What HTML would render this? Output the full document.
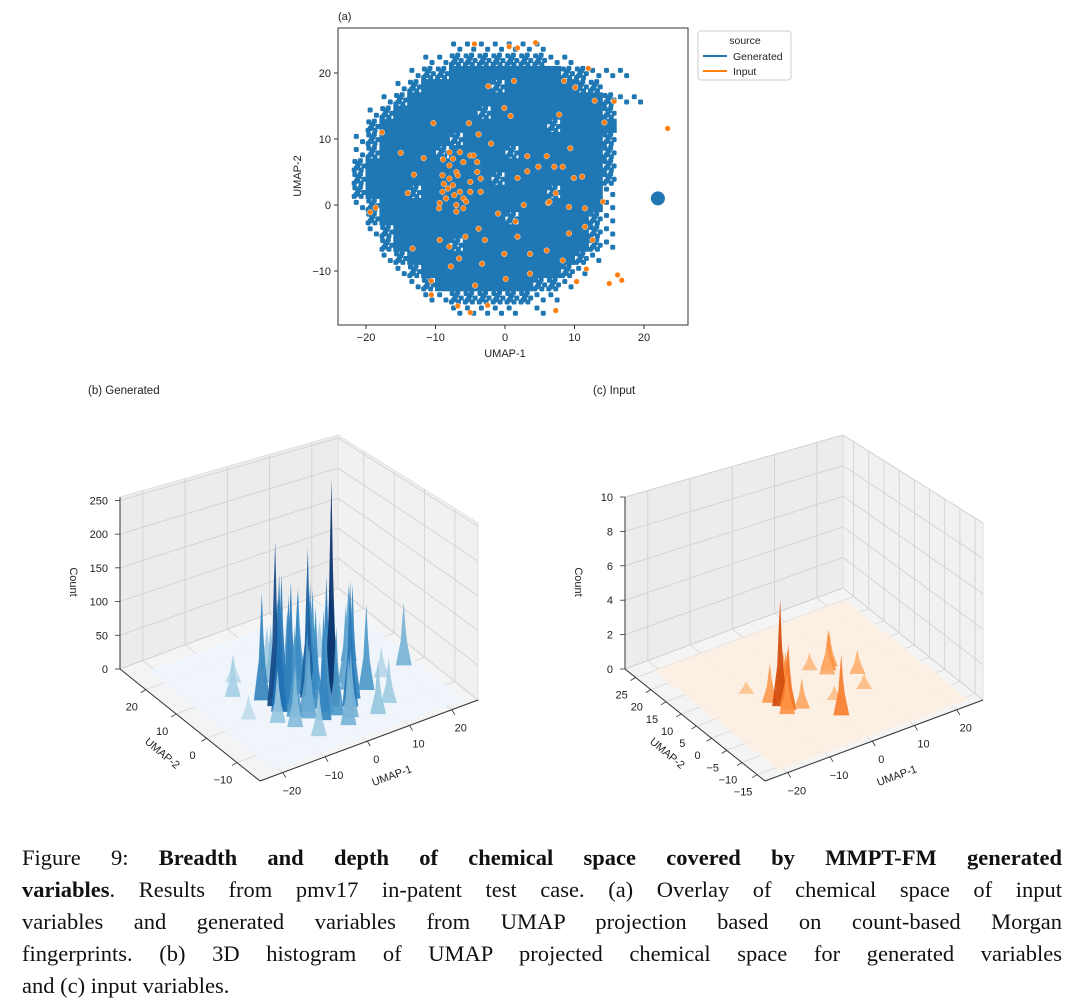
<!DOCTYPE html>
<html><head><meta charset="utf-8">
<style>
html,body{margin:0;padding:0;background:#fff;}
body{width:1080px;height:1006px;position:relative;overflow:hidden;font-family:"Liberation Sans",sans-serif;}
.cap{position:absolute;left:22px;width:1040px;font-family:"Liberation Serif",serif;font-size:22.5px;line-height:30px;white-space:nowrap;color:#111;}
.j{text-align:justify;text-align-last:justify;white-space:normal;}
</style></head><body>
<svg id="fig" width="1080" height="840" style="position:absolute;left:0;top:0" font-family="Liberation Sans, sans-serif"></svg>
<div class="cap j" style="top:843px">Figure 9: <b>Breadth and depth of chemical space covered by MMPT-FM generated</b></div>
<div class="cap j" style="top:875px"><b>variables</b>. Results from pmv17 in-patent test case. (a) Overlay of chemical space of input</div>
<div class="cap j" style="top:907px">variables and generated variables from UMAP projection based on count-based Morgan</div>
<div class="cap j" style="top:939px">fingerprints. (b) 3D histogram of UMAP projected chemical space for generated variables</div>
<div class="cap" style="top:971px">and (c) input variables.</div>
<script>
// ---- data: scatter density grid (rows y=24 down to -16, cols x=-21..19 step 2) ----
const densityRows = [
".......1111111.......",
".....11222222211.....",
"....1223333333322111.",
"...123333323333322...",
"..1233333333333333211",
".123333332333333332..",
".233333333333323333..",
"1233333233333333332..",
"1233332333323333332..",
"2333333333333333332..",
"2333333333233333332..",
"2333233333333323331..",
"1233333333333333331..",
".233333333323333321..",
".123333333333333321..",
"..23333233333333321..",
"..1233333333333321...",
"...12333333333321....",
"....123333333221.....",
".....1122222211......",
".......11111.1......."];
const isolatedX = [22]; const isolatedY = [1];
const inputX = [-4.4,0.6,1.8,4.4,12,23.4,-17.7,15.7,-19.4,-18.6,-10.6,-10.6,-6.8,-5,-2.5,7.3,11.7,15,16.8,16.2,10.3,
-10.3,-5.2,-0.1,0.8,-3.8,-2,7.8,10.1,9.4,6.2,7.3,9.2,11.5,14.1,1.5,2.7,-1,-3.8,-2.9,-5.7,-8,-9.4,-6.6,-3.3,-0.1,1.8,3.6,6,8.3,9.2,11.5,12.6,-14,-13.1,-15,-11.7,-8.9,-9.4,-13.3,0.1,3.6,-4.3,-7.8,-2.4,1.3,8.5,12.9,14.3,8.3,9.9,11.1,6.4,3.2,3.2,6,7.1,1.8,4.8,
-8,-7.5,-7,-6.5,-8.5,-7,-6,-8,-6,-5,-4.5,-5,-4,-3.5,-7,-9,-9,-6,-5,-3.5,-8,-6.5,-4,-7.5,-9.5,-8.2,-6.8,-5.6,-7.3,-8.8];
const inputY = [24.4,24,23.8,24.6,20.7,11.6,11,15.7,-1.1,-0.4,-11.5,-13.6,-15.3,-16.3,-15.2,-16,-9.7,-11.9,-11.4,-10.6,-11.6,
12.4,12.4,14.7,13.5,10.7,9.3,13.7,17.8,8.6,0.3,1.8,-0.3,-0.5,0.5,-2.5,0,-1.3,-3.6,-5.3,-4.8,-6.3,-5.3,-8.1,-8.9,-7.4,-4.8,-7.4,-6.9,-8.4,-4.3,-3.3,-5.3,1.8,4.6,7.9,7.1,6.9,0.3,-6.6,-11.2,-10.4,-12.2,-9.3,18,18.8,18.8,15.8,12.5,5.8,4.1,4.3,0.5,5.1,7.4,7.4,5.8,4.1,5.8,
4,3,5,2,1,0,1,6,6.5,7.5,7.5,3.5,5,4,-1,4.5,2,-0.5,2,2,8,8,6.5,7,-0.5,2.5,4.5,0.5,1.5,3.2];
const scatterXTicks = [-20,-10,0,10,20];
const scatterYTicks = [-10,0,10,20];
// ---- 3D generated peaks ----
const genU = [-7,-6,-4,-8,-5,2,0,3,5,7,-2,4,9,6,-3,-10,14,12,-12,1,-6,8,10,-1,16,-14,22,3,-9,11,-1,2,
-7.5,-5.5,-3,-1,1,4,6,-4,0,3,8,-6,-2,5,-8,2];
const genV = [3,0,2,6,5,-3,2,0,-5,-3,-6,6,2,10,10,-2,8,-8,10,-10,-10,-10,12,14,0,2,1,16,14,-2,-2,8,
1,3,-2,4,-6,-1,3,-4,-4,-8,0,-2,6,1,-5,4];
const genH = [230,160,170,150,140,320,210,170,175,160,150,130,110,100,80,70,110,60,55,90,60,70,50,60,40,30,90,40,35,120,140,130,
190,180,110,140,120,130,150,100,120,90,100,120,110,140,80,150];
// ---- 3D input peaks ----
const inU = [-7,-6.5,-5,-8,-4,1,8,9,7,12,-2,5,-10,3,10,-6,-7.5];
const inV = [3,1,4,5,0,-6,8,9,7,4,9,10,10,-1,-1,2,0];
const inH = [5.8,3.5,2.5,2.0,1.5,3.2,2.2,1.8,1.4,1.2,1.6,0.8,0.5,0.6,0.7,3.0,2.2];
const zTicksGen = [0,50,100,150,200,250];
const zTicksIn = [0,2,4,6,8,10];
const u1Ticks = [-20,-10,0,10,20];
const u2TicksGen = [-10,0,10,20];
const u2TicksIn = [-15,-10,-5,0,5,10,15,20,25];

const NS="http://www.w3.org/2000/svg";
const svg=document.getElementById('fig');
function mk(tag,attrs,parent){const e=document.createElementNS(NS,tag);for(const k in attrs)e.setAttribute(k,attrs[k]);(parent||svg).appendChild(e);return e;}
function txt(s,x,y,size,anchor,parent,rot){const t=mk('text',{x:x,y:y,'font-size':size,'text-anchor':anchor||'middle',fill:'#222'},parent);if(rot)t.setAttribute('transform','rotate('+rot+' '+x+' '+y+')');t.textContent=s;return t;}

// ===== Panel (a) =====
const ga=mk('g',{});


const sx=v=>505+v*6.95, sy=v=>205-v*6.6;
txt('(a)',338,20,11,'start',ga);
const plot=mk('g',{},ga);


const pat1=[[0.3,0.3],[0.75,0.7]], pat2=[[0.2,0.2],[0.6,0.15],[0.85,0.55],[0.4,0.55],[0.15,0.85],[0.65,0.85],[0.5,0.35],[0.3,0.7]];
densityRows.forEach((row,ri)=>{
  const yc=24-2*ri;
  for(let ci=0;ci<row.length;ci++){
    const d=row[ci]; if(d==='.')continue;
    const xc=-21+2*ci;
    const x0=sx(xc-1), y0=sy(yc+1), w=sx(xc+1)-x0, h=sy(yc-1)-y0;
    if(d==='3'){const r=mk('rect',{x:x0-0.5,y:y0-0.5,width:w+1,height:h+1,fill:'#1f77b4'},plot);}
    else{(d==='2'?pat2:pat1).forEach(p=>{const r=mk('rect',{x:x0+p[0]*w-2.5,y:y0+p[1]*h-2.5,width:5,height:5,rx:1.5,fill:'#1f77b4'},plot);});}
  }
});
isolatedX.forEach((x,i)=>{const c=mk('circle',{cx:sx(x),cy:sy(isolatedY[i]),r:7,fill:'#1f77b4'},plot);});
inputX.forEach((x,i)=>{const c=mk('circle',{cx:sx(x),cy:sy(inputY[i]),r:2.8,fill:'#ff7f0e',stroke:'#fff','stroke-width':0.4},plot);});
const fr=mk('rect',{x:338,y:28,width:350,height:297,fill:'none',stroke:'#333','stroke-width':1},ga);

scatterXTicks.forEach(v=>{mk('line',{x1:sx(v),x2:sx(v),y1:325,y2:329,stroke:'#333'},ga);const t=txt(v<0?'\u2212'+(-v):''+v,sx(v),341,11,'middle',ga);});
scatterYTicks.forEach(v=>{mk('line',{x1:334,x2:338,y1:sy(v),y2:sy(v),stroke:'#333'},ga);const t=txt(v<0?'\u2212'+(-v):''+v,331,sy(v)+4,11,'end',ga);});
const xl=txt('UMAP-1',505,357,11,'middle',ga);
const yl=txt('UMAP-2',301,176,11,'middle',ga,-90);
const lg=mk('g',{},ga);
mk('rect',{x:698,y:31,width:93,height:49,rx:3,fill:'#fff',stroke:'#ccc'},lg);
txt('source',745,44,10.5,'middle',lg);
mk('line',{x1:703,x2:727,y1:56,y2:56,stroke:'#1f77b4','stroke-width':2},lg);
const l1=txt('Generated',733,60,10.5,'start',lg);
mk('line',{x1:703,x2:727,y1:71,y2:71,stroke:'#ff7f0e','stroke-width':2},lg);
const l2=txt('Input',733,75,10.5,'start',lg);

// ===== 3D panels =====
function cmap(stops,t){t=Math.max(0,Math.min(1,t));const n=stops.length-1,k=Math.min(n-1,Math.floor(t*n)),f=t*n-k;const a=[1,3,5].map(i=>parseInt(stops[k].substr(i,2),16)),b=[1,3,5].map(i=>parseInt(stops[k+1].substr(i,2),16));return 'rgb('+a.map((v,i)=>Math.round(v+(b[i]-v)*f)).join(',')+')';}
function panel3d(ox,title,zmax,zTicks,u2Ticks,U,V,H,stops,floorCol,name){
  const g=mk('g',{});
  
  
  const umin=-25.4,umax=26.2,vmin=-17.6,vmax=28.5;
  function P(u,v,z){const a=(u-umin)/(umax-umin),b=(v-vmin)/(vmax-vmin),c=z/zmax;const s=195-18*a-23*b-a*b;return [ox+260+a*218-b*140,781-a*81-b*112-c*s];}
  function Pn(a,b,c){return P(umin+a*(umax-umin),vmin+b*(vmax-vmin),c*zmax);}
  const poly=(pts,attrs)=>mk('polygon',Object.assign({points:pts.map(p=>p.join(',')).join(' ')},attrs),g);
  txt(title,ox+88,394,11.5,'start',g);
  poly([Pn(0,1,0),Pn(1,1,0),Pn(1,1,1),Pn(0,1,1)],{fill:'#ececec',stroke:'#e0e0e0'});
  poly([Pn(1,1,0),Pn(1,0,0),Pn(1,0,1),Pn(1,1,1)],{fill:'#f1f1f1',stroke:'#e0e0e0'});
  poly([Pn(0,0,0),Pn(1,0,0),Pn(1,1,0),Pn(0,1,0)],{fill:'#f4f4f4',stroke:'#e0e0e0'});
  const L=(p,q,st,w)=>mk('line',{x1:p[0],y1:p[1],x2:q[0],y2:q[1],stroke:st,'stroke-width':w||0.8},g);
  u1Ticks.forEach(u=>{L(P(u,vmin,0),P(u,vmax,0),'#d6d6d6');L(P(u,vmax,0),P(u,vmax,zmax),'#cfcfcf');});
  u2Ticks.forEach(v=>{L(P(umin,v,0),P(umax,v,0),'#d6d6d6');L(P(umax,v,0),P(umax,v,zmax),'#cfcfcf');});
  zTicks.forEach(z=>{L(P(umin,vmax,z),P(umax,vmax,z),'#cfcfcf');L(P(umax,vmax,z),P(umax,vmin,z),'#cfcfcf');});
  poly([P(-21,-16,0),P(24,-16,0),P(24,25,0),P(-21,25,0)],{fill:floorCol,opacity:0.9});
  const idx=U.map((_,i)=>i).sort((i,j)=>(U[j]+V[j])-(U[i]+V[i]));
  idx.forEach(i=>{
    const b=P(U[i],V[i],0), t=P(U[i],V[i],H[i]);
    const hh=b[1]-t[1];
    const col=cmap(stops,H[i]/zmax);
    const sp=poly([[b[0]-8,b[1]+4],[b[0]-3,b[1]-hh*0.35],[b[0]-1.5,b[1]-hh*0.7],t,[b[0]+1.5,b[1]-hh*0.6],[b[0]+3.5,b[1]-hh*0.3],[b[0]+8,b[1]+4]],{fill:col,opacity:0.92});
    
    
  });
  L(Pn(0,0,0),Pn(1,0,0),'#333',1);L(Pn(0,0,0),Pn(0,1,0),'#333',1);L(Pn(0,1,0),Pn(0,1,1),'#333',1);
  u1Ticks.forEach(u=>{const p=P(u,vmin,0);L(p,[p[0]+3,p[1]+5],'#333');const tt=txt(u<0?'\u2212'+(-u):''+u,p[0]+9,p[1]+22,11,'middle',g);});
  u2Ticks.forEach(v=>{const p=P(umin,v,0);L(p,[p[0]-5,p[1]+3],'#333');const tt=txt(v<0?'\u2212'+(-v):''+v,p[0]-14,p[1]+21,11,'middle',g);});
  zTicks.forEach(z=>{const p=P(umin,vmax,z);L(p,[p[0]-5,p[1]],'#333');const tt=txt(''+z,p[0]-12,p[1]+4,11,'end',g);});
  const a1=txt('UMAP-1',ox+393,779,11,'middle',g,-20);
  const a2=txt('UMAP-2',ox+160,756,11,'middle',g,40);
  const a3=txt('Count',ox+70,582,11,'middle',g,90);
}
panel3d(0,'(b) Generated',255,zTicksGen,u2TicksGen,genU,genV,genH,['#deebf7','#9ecae1','#4292c6','#2171b5','#08306b'],'#eef5fc','histogram-3d-generated');
panel3d(505,'(c) Input',10,zTicksIn,u2TicksIn,inU,inV,inH,['#fdd0a2','#fd8d3c','#e6550d','#a63603','#7f2704'],'#fdf0e2','histogram-3d-input');
</script>
</body></html>
